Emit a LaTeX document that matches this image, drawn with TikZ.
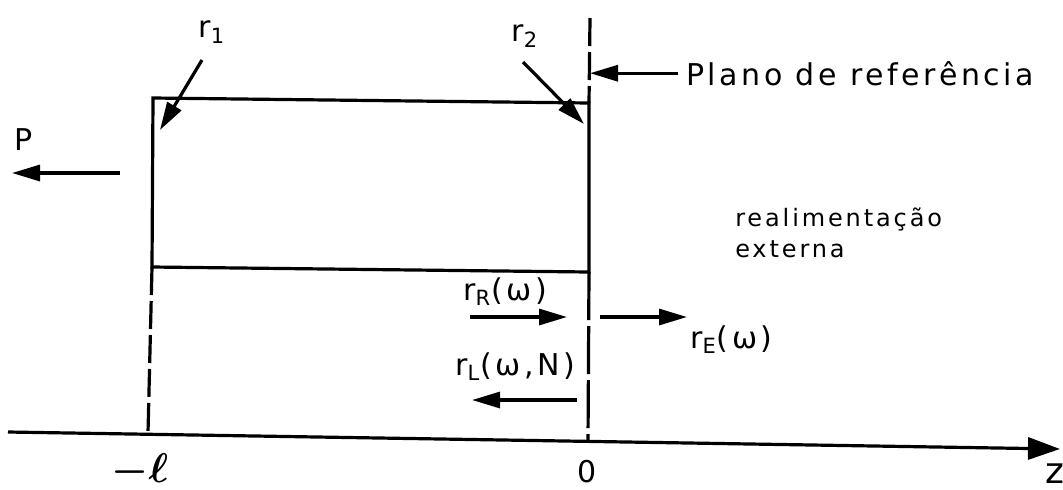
\documentclass[tikz,border=0pt]{standalone}
\usepackage{amsmath}
\usepackage{fontspec}
\setmainfont{DejaVu Sans}[LetterSpace=12]
\usetikzlibrary{arrows.meta}

\begin{document}
\begin{tikzpicture}[x=0.5pt,y=-0.5pt,line width=1.6pt,
    font=\fontsize{15}{18}\selectfont,
    seta/.style={-{Triangle[length=14pt,width=8pt]}},
    tracejado/.style={dash pattern=on 14pt off 3pt}]
  \useasboundingbox (0,0) rectangle (1063,489);
  \coordinate (a1) at (153,98);
  \coordinate (a2) at (589,103);
  \coordinate (b1) at (152,267);
  \coordinate (b2) at (589,272);
  \coordinate (e1) at (148,433);
  \coordinate (topo) at (590,18);
  \coordinate (base) at (588,441);
  \coordinate (z0) at (8,432);
  \coordinate (z1) at (1060,449);
  \draw (a1) -- (a2) -- (b2) -- (b1) -- cycle;
  \draw[tracejado] (b1) -- (e1);
  \draw[dash pattern=on 14pt off 3pt] (topo) -- (a2);
  \draw[dash pattern=on 24pt off 3pt] (b2) -- (base);
  \draw[-{Triangle[length=16pt,width=11pt]}] (z0) -- (z1);

  \node (mell) at (140,471) {\fontsize{20}{22}\selectfont$\boldsymbol{-\ell}$};
  \node (zero) at (587,472) {0};
  \node[anchor=base] (zz) at (1055,483) {\fontsize{18}{20}\selectfont z};

  \node (r1) at (212,32) {r\textsubscript{1}};
  \coordinate (r1a) at (202,60);
  \coordinate (r1b) at (160,130);
  \draw[seta] (r1a) -- (r1b);
  \node (r2) at (525,36) {r\textsubscript{2}};
  \coordinate (r2a) at (523,62);
  \coordinate (r2b) at (584,124);
  \draw[seta] (r2a) -- (r2b);

  \node[anchor=base west] (plano) at (678,85) {Plano de referência};
  \draw[seta] (plano.west) -- (plano.west -| topo);

  \node (pp) at (24,140) {P};
  \coordinate (pa) at (120,173);
  \coordinate (pb) at (12,173);
  \draw[seta] (pa) -- (pb);

  \node[anchor=base west,align=left,font=\fontsize{12}{15.5}\selectfont]
    (realim) at (727,257) {realimentação\\externa};

  \node[anchor=base west] (rR) at (455,300) {r\textsubscript{R}(ω)};
  \coordinate (rRa) at (470,317);
  \coordinate (rRb) at (567,317);
  \draw[seta] (rRa) -- (rRb);
  \node[anchor=base west] (rE) at (682,348) {r\textsubscript{E}(ω)};
  \coordinate (rEa) at (600,317);
  \coordinate (rEb) at (687,317);
  \draw[seta] (rEa) -- (rEb);
  \node[anchor=base west] (rL) at (447,375) {r\textsubscript{L}(ω,N)};
  \coordinate (rLa) at (577,400);
  \coordinate (rLb) at (472,400);
  \draw[seta] (rLa) -- (rLb);
\end{tikzpicture}
\end{document}
